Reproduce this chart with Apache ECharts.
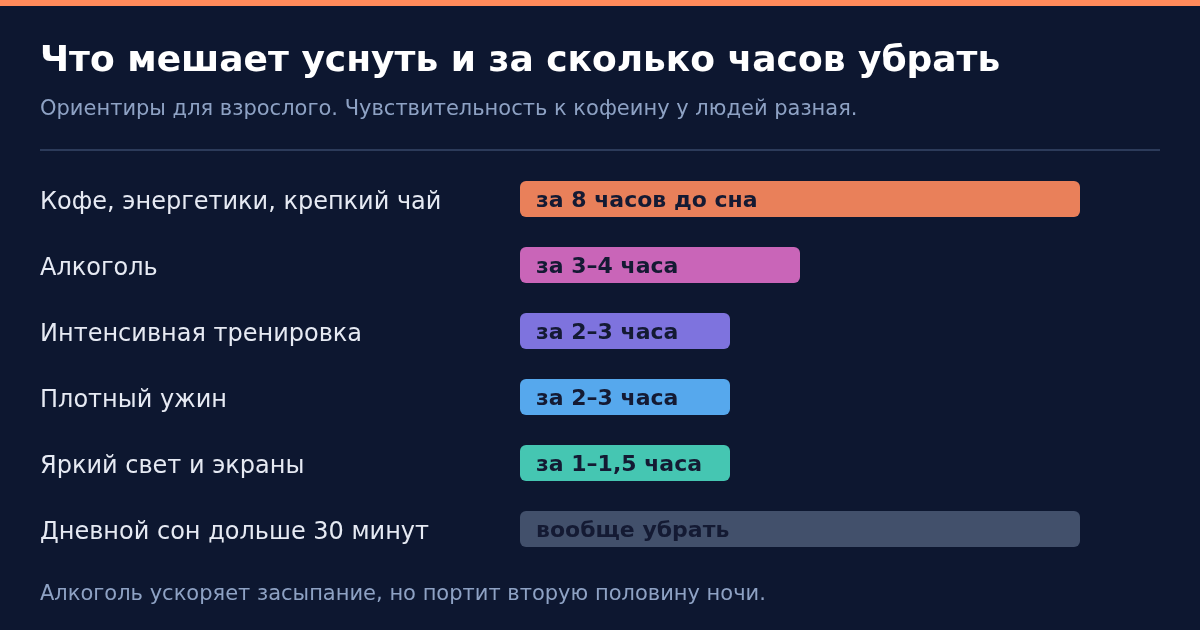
<!DOCTYPE html>
<html>
<head>
<meta charset="utf-8">
<script src="https://cdn.jsdelivr.net/npm/echarts@6/dist/echarts.min.js"></script>
<style>
  html, body { margin: 0; padding: 0; background: #0d1730; }
  #main { width: 1200px; height: 630px; }
</style>
</head>
<body>
<div id="main"></div>
<script>
// данные с картинки
var habits = ['Кофе, энергетики, крепкий чай', 'Алкоголь', 'Интенсивная тренировка', 'Плотный ужин', 'Яркий свет и экраны', 'Дневной сон дольше 30 минут'];
var barHours = [8, 4, 3, 3, 3, 8];
var barLabels = ['за 8 часов до сна', 'за 3–4 часа', 'за 2–3 часа', 'за 2–3 часа', 'за 1–1,5 часа', 'вообще убрать'];
var barColors = ['#e9805a', '#c965b8', '#7e73de', '#56a8ed', '#45c6b2', '#42506b'];

var font = 'DejaVu Sans';
var myChart = echarts.init(document.getElementById('main'));

var option = {
    backgroundColor: '#0d1730',
    animation: false,
    title: [{
        text: 'Что мешает уснуть и за сколько часов убрать',
        left: 40,
        top: 44,
        padding: 0,
        textStyle: { color: '#ffffff', fontFamily: font, fontWeight: 'bold', fontSize: 36 }
    }, {
        text: 'Ориентиры для взрослого. Чувствительность к кофеину у людей разная.',
        left: 40,
        top: 99,
        padding: 0,
        textStyle: { color: '#8ea2c4', fontFamily: font, fontWeight: 'normal', fontSize: 21 }
    }],
    graphic: [
        { type: 'rect', left: 0, top: 0, shape: { width: 1200, height: 6 }, style: { fill: '#ff8a5b' } },
        { type: 'rect', left: 40, top: 149, shape: { width: 1120, height: 2 }, style: { fill: '#2c3b5a' } },
        {
            type: 'text', left: 40, top: 584,
            style: { text: 'Алкоголь ускоряет засыпание, но портит вторую половину ночи.', fill: '#8ea2c4', font: '21px "DejaVu Sans"' }
        }
    ],
    grid: { left: 520, right: 120, top: 166, bottom: 68 },
    xAxis: {
        type: 'value', min: 0, max: 8,
        show: false
    },
    yAxis: {
        type: 'category',
        inverse: true,
        data: habits,
        axisLine: { show: false },
        axisTick: { show: false },
        axisLabel: {
            align: 'left',
            margin: 480,
            formatter: function(v) { return '{a|' + v + '}'; },
            rich: {
                a: { color: '#e6eaf3', fontFamily: font, fontSize: 24, padding: [8, 0, 0, 0] }
            }
        }
    },
    series: [{
        type: 'bar',
        barWidth: 36,
        data: barHours.map(function(v, i) {
            return { value: v, itemStyle: { color: barColors[i] } };
        }),
        itemStyle: { borderRadius: 6 },
        label: {
            show: true,
            position: 'insideLeft',
            distance: 16,
            formatter: function(p) { return '{b|' + barLabels[p.dataIndex] + '}'; },
            rich: {
                b: { color: '#141a33', fontFamily: font, fontWeight: 'bold', fontSize: 22, padding: [4, 0, 0, 0] }
            }
        }
    }]
};

myChart.setOption(option);
</script>
</body>
</html>
